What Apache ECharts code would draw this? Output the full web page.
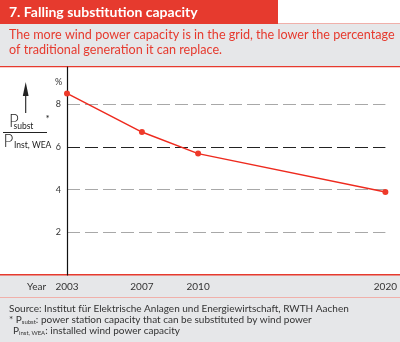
<!DOCTYPE html>
<html><head><meta charset="utf-8">
<script src="https://cdn.jsdelivr.net/npm/echarts@6/dist/echarts.min.js"></script>
<style>html,body{margin:0;padding:0;background:#fff}#c{width:400px;height:342px}</style>
</head><body><div id="c"></div>
<script>
const years = [2003, 2007, 2010, 2020];
const substPct = [8.51, 6.70, 5.69, 3.89];
const yTicks = [0, 2, 4, 6, 8];
const xTickLabels = [2003, 2007, 2010, 2020];

const RED = '#e63a2e';
const FONT = 'Lato, "Open Sans", sans-serif';
const chart = echarts.init(document.getElementById('c'));
function t(x, y, text, font, fill, extra) {
  return Object.assign({type:'text', z:5, x:x, y:y, style:Object.assign({text:text, fill:fill||'#222', font:font, verticalAlign:'middle'}, extra||{})});
}
chart.setOption({
  animation: false,
  backgroundColor: '#fff',
  graphic: [
    {type:'rect', z:0, shape:{x:0,y:23,width:400,height:44}, style:{fill:'#e6e7e9'}},
    {type:'rect', z:0, shape:{x:0,y:0,width:278,height:24}, style:{fill:RED}},
    {type:'rect', z:0, shape:{x:278,y:23,width:122,height:1}, style:{fill:'#f0b0aa'}},
    {type:'rect', z:0, shape:{x:0,y:66,width:400,height:1.2}, style:{fill:RED}},
    {type:'rect', z:0, shape:{x:0,y:275,width:400,height:67}, style:{fill:'#e6e7e9'}},
    {type:'rect', z:0, shape:{x:0,y:274,width:400,height:1.5}, style:{fill:RED}},
    {type:'rect', z:0, shape:{x:0,y:297,width:400,height:1}, style:{fill:'#f0b0aa'}},
    t(9, 12, '7. Falling substitution capacity', 'bold 14px '+FONT, '#fff'),
    t(9, 35, 'The more wind power capacity is in the grid, the lower the percentage', '12.6px '+FONT, RED),
    t(9, 50, 'of traditional generation it can replace.', '12.6px '+FONT, RED),
    // axis title
    {type:'line', z:5, shape:{x1:25.7,y1:113,x2:25.7,y2:90}, style:{stroke:'#222',lineWidth:1.1}},
    {type:'polygon', z:5, shape:{points:[[22.8,96],[25.7,82],[28.6,96]]}, style:{fill:'#222'}},
    t(9, 121.8, 'P', '300 17px '+FONT, '#222'),
    t(13.5, 126.5, 'subst', '8.5px '+FONT, '#222'),
    t(45.5, 118.5, '*', '10px '+FONT, '#222'),
    {type:'line', z:5, shape:{x1:3,y1:132.5,x2:47,y2:132.5}, style:{stroke:'#222',lineWidth:1}},
    t(3.5, 141.8, 'P', '300 17px '+FONT, '#222'),
    t(14, 144.8, 'Inst, WEA', '8.5px '+FONT, '#222'),
    t(55, 82, '%', '9px '+FONT, '#333'),
    t(27, 287, 'Year', '10px '+FONT, '#333'),
    // footnotes
    t(9, 309, 'Source: Institut für Elektrische Anlagen und Energiewirtschaft, RWTH Aachen', '10px '+FONT, '#333'),
    {type:'text', z:5, x:9, y:320, style:{text:'{a|* P}{s|subst}{a|: power station capacity that can be substituted by wind power}', verticalAlign:'middle', rich:{a:{font:'10px '+FONT, fill:'#333'}, s:{font:'6px '+FONT, fill:'#333', padding:[4,0,0,0]}}}},
    {type:'text', z:5, x:13, y:331, style:{text:'{a|P}{s|inst, WEA}{a|: installed wind power capacity}', verticalAlign:'middle', rich:{a:{font:'10px '+FONT, fill:'#333'}, s:{font:'6px '+FONT, fill:'#333', padding:[4,0,0,0]}}}}
  ],
  grid: {left:67, right:10, top:67, bottom:67, containLabel:false},
  xAxis: {
    type:'value', min:2003, max:2020,
    axisLine:{show:false}, axisTick:{show:false}, splitLine:{show:false},
    axisLabel:{customValues:xTickLabels, color:'#333', fontSize:10, fontFamily:FONT, margin:7, formatter:v=>String(v)}
  },
  yAxis: {
    type:'value', min:0, max:9.75, interval:2,
    axisLine:{show:true, lineStyle:{color:'#111', width:1.2}}, axisTick:{show:false},
    axisLabel:{customValues:yTicks.slice(1), color:'#333', fontSize:9, fontFamily:FONT, margin:6},
    splitLine:{show:true, lineStyle:{type:[13,5], width:1, color:['rgba(0,0,0,0)','#a8a8a8','#a8a8a8','#222','#a8a8a8','rgba(0,0,0,0)']}}
  },
  series: [{
    type:'line', data: years.map((y,i)=>[y, substPct[i]]),
    lineStyle:{color:'#ee2a1e', width:1.5}, itemStyle:{color:'#ee3a2a'},
    symbol:'circle', symbolSize:6, clip:false
  }]
});
</script></body></html>
